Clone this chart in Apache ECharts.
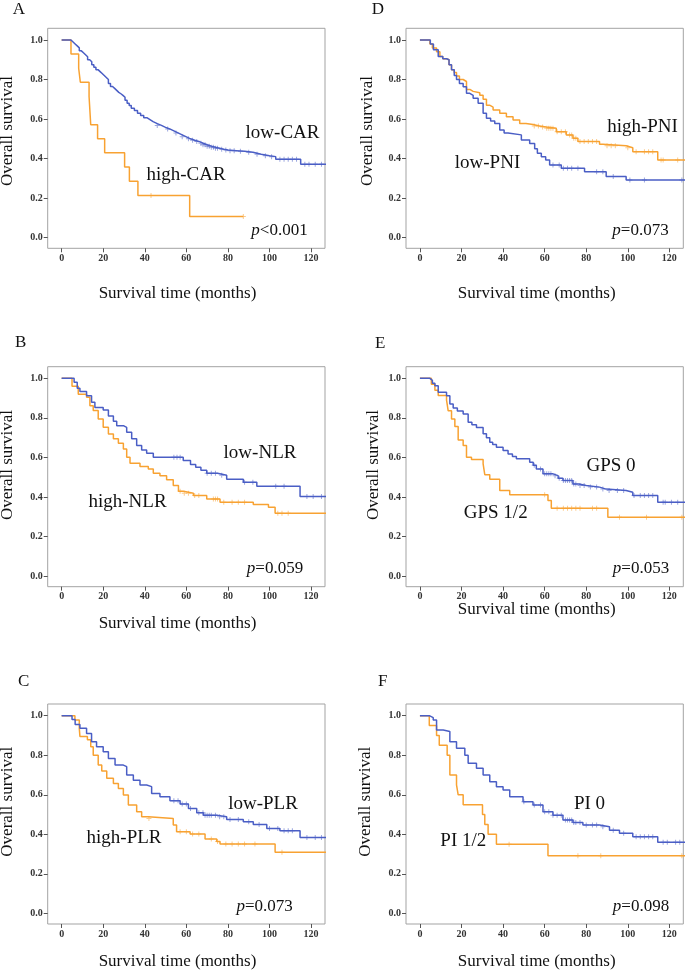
<!DOCTYPE html>
<html>
<head>
    <meta charset="utf-8">
    <title>Overall survival</title>
    <script src="https://cdn.jsdelivr.net/npm/echarts@6.0.0/dist/echarts.min.js"></script>
    <style>
        html, body { margin: 0; padding: 0; background: #fff; }
        #chart { width: 685px; height: 970px; }
    </style>
</head>
<body>
<div id="chart"></div>
<script>
    // tick labels
    var xTicks = [0, 20, 40, 60, 80, 100, 120];
    var yTicks = [0, 0.2, 0.4, 0.6, 0.8, 1.0];

    // A: CAR  (drop times / survival after drop / censor times)
    var carLowT = [4.5,5.5,6.5,7.5,8.5,9.5,10.5,11.5,12.5,13.5,14.5,15.5,16.5,17.5,18.5,19.5,20.5,21.5,22.5,23.5,24.5,25.5,26.5,27.5,28.5,29.5,30.5,31.5,32.5,33.5,35,36.5,38,39.5,41,42.5,44,46,48,50,52,54,56,58,60,62,64,66,68,70,72,74,76,78,80,84,88,92,96,100,103,115];
    var carLowS = [0.99,0.98,0.97,0.96,0.945,0.935,0.925,0.915,0.90,0.89,0.875,0.862,0.85,0.84,0.83,0.82,0.81,0.80,0.78,0.765,0.755,0.745,0.735,0.728,0.72,0.71,0.695,0.68,0.668,0.655,0.643,0.63,0.618,0.607,0.597,0.587,0.577,0.568,0.558,0.55,0.54,0.53,0.52,0.51,0.50,0.493,0.487,0.478,0.47,0.463,0.457,0.452,0.447,0.443,0.44,0.437,0.432,0.422,0.415,0.41,0.397,0.371];
    var carLowCens = [46,51,55,58,61,63,65,67,68,69,70,71,72,73,74,75,77,79,81,83,86,90,94,98,101,105,107,109,111,113,117,119,122,125];
    var carHighT = [4.5,8.2,9,13.2,14,17.3,20.7,30.3,32.6,36.7,61.6];
    var carHighS = [0.929,0.857,0.786,0.714,0.571,0.5,0.429,0.357,0.286,0.214,0.107];
    var carHighCens = [43,87.4];
    var carHighEnd = 87.4;

    // B: NLR
    var nlrLowT = [6,7.5,8.8,12,14.4,16,20,22.5,24.9,26.5,29.7,31.3,33.7,36.1,38.5,40.9,44.1,58.5,62,64.5,67,69.8,75,79.4,87.4,93.9,114.7];
    var nlrLowS = [0.98,0.95,0.933,0.912,0.879,0.853,0.84,0.81,0.783,0.761,0.752,0.727,0.694,0.66,0.638,0.621,0.601,0.585,0.565,0.55,0.535,0.52,0.51,0.49,0.475,0.455,0.402];
    var nlrLowCens = [54,55.5,57,70,72,74,77,88,92,103,107,118,121,125];
    var nlrHighT = [5,8,12,13.6,15.2,17.6,20,22.5,24.9,27.3,29.7,31.3,32.9,37.7,41.7,44.1,47.3,50.5,53.7,56.2,58.6,63.4,69.8,76.2,92.2,99.5,102.7];
    var nlrHighS = [0.96,0.92,0.904,0.862,0.837,0.795,0.753,0.719,0.694,0.672,0.643,0.601,0.571,0.554,0.542,0.52,0.508,0.487,0.458,0.429,0.419,0.407,0.39,0.374,0.362,0.348,0.318];
    var nlrHighCens = [57,59,61,64,66,73,74,75,78,82,85,88,104,106,109];

    // C: PLR
    var plrLowT = [5,6.5,8.8,12,14.4,16.8,20,22.5,25.7,29.7,31.3,34.5,37.7,40.9,43.3,47.3,52.1,57,61,65,68.2,74.6,79.4,87.4,92.2,98.7,105,114.7];
    var plrLowS = [0.98,0.955,0.936,0.91,0.868,0.843,0.818,0.784,0.75,0.742,0.70,0.674,0.649,0.641,0.607,0.59,0.57,0.553,0.531,0.509,0.497,0.489,0.475,0.464,0.45,0.43,0.418,0.384];
    var plrLowCens = [54,56,58,60,62,66,68,69,70,71,72,74,76,78,81,85,90,95,100,104,107,109,111,118,122,125];
    var plrHighT = [6.4,8.5,8.8,12.4,14,15.2,17.6,19.3,21.7,24.9,27.3,29.7,32.1,36.1,38.5,41.7,53.7,55.3,61.8,69,74.6,76.2,102.7];
    var plrHighS = [0.978,0.936,0.895,0.878,0.843,0.80,0.75,0.72,0.683,0.657,0.632,0.599,0.548,0.514,0.489,0.48,0.447,0.413,0.401,0.376,0.363,0.351,0.309];
    var plrHighCens = [42,57,60,63,66,72,75,79,82,85,88,93,106];

    // D: PNI
    var pniLowT = [5,6.5,8.8,11,12.8,14,15.2,16.5,17.6,19,20.8,22.4,24,25.6,28,30.4,32,34,36,38.4,40.5,42.4,48.8,52.8,55.2,56.5,58.4,60.5,62.4,68,79.2,89.6,99.2];
    var pniLowS = [0.98,0.95,0.916,0.905,0.90,0.875,0.85,0.82,0.80,0.78,0.764,0.73,0.72,0.705,0.68,0.63,0.604,0.59,0.578,0.545,0.53,0.52,0.494,0.477,0.45,0.427,0.41,0.393,0.368,0.351,0.334,0.309,0.292];
    var pniLowCens = [64,67,69,71,73,76,85,88,93,101,108,126];
    var pniHighT = [4.8,6,8,9.6,11,12.8,14,15.2,16.5,17.6,19,20.8,22.4,24,25.6,28.8,30.4,32,33.5,35.2,38.4,41.6,44.8,48,51,54.4,57.5,60.8,65.6,70.4,73.6,76,86.4,88,99.2,102.4,114.4];
    var pniHighS = [0.98,0.96,0.94,0.916,0.905,0.90,0.875,0.85,0.835,0.818,0.80,0.79,0.75,0.74,0.733,0.72,0.70,0.67,0.66,0.646,0.63,0.612,0.595,0.578,0.572,0.565,0.56,0.553,0.536,0.52,0.503,0.486,0.472,0.465,0.455,0.435,0.393];
    var pniHighCens = [55,57,59,61,62,63,64,66,68,70,72,73,74,75,77,79,81,83,85,90,92,94,100,104,108,110,112,116,117,124];

    // E: GPS
    var gps0T = [4.8,6,7.2,8.8,12.8,14.4,16,18,20.8,23.2,25,27.2,30.4,32,33.6,35,36.8,40,42.4,44.5,46.4,52.8,54.5,56,59.2,64,66.5,68.8,73.6,76.5,80,86.4,89.6,99.2,102.4,114.4];
    var gps0S = [0.99,0.975,0.963,0.93,0.912,0.87,0.85,0.835,0.82,0.778,0.765,0.752,0.72,0.70,0.677,0.665,0.652,0.635,0.618,0.605,0.593,0.576,0.56,0.542,0.517,0.508,0.495,0.483,0.466,0.458,0.45,0.44,0.433,0.424,0.407,0.374];
    var gps0Cens = [55,58,60,61,62,63,65,67,69,70,71,72,73,74,75,77,79,82,85,88,91,95,98,103,106,108,110,112,117,118,121,124];
    var gps12T = [5.5,7.2,8.8,12.8,13.6,15.2,16.8,18.4,20.8,22.4,24.8,30.4,31.2,33.6,38.4,43.2,61.6,63.2,90.4];
    var gps12S = [0.97,0.94,0.913,0.89,0.836,0.795,0.756,0.688,0.66,0.601,0.59,0.567,0.513,0.49,0.433,0.412,0.382,0.343,0.298];
    var gps12Cens = [60,66,69,71,73,75,77,83,85,96,109,126];

    // F: PI
    var pi0T = [4.5,6.4,8,11.2,14.4,17.6,21.6,23.2,27.2,30.4,33.6,36.8,40,43.2,49.6,54.4,59.2,64,68.8,73.6,78.4,86.4,91.2,96,102.4,114.4];
    var pi0S = [0.99,0.978,0.927,0.92,0.868,0.835,0.80,0.759,0.734,0.70,0.666,0.641,0.624,0.59,0.565,0.548,0.514,0.497,0.472,0.46,0.447,0.438,0.42,0.405,0.388,0.36];
    var pi0Cens = [50,55,58,60,62,64,66,68,70,71,72,73,74,75,77,80,83,85,88,93,98,104,106,108,110,112,117,119,123,125];
    var pi12T = [4.5,8,9.3,13.1,14.4,17.6,18.4,20.8,30.1,31.2,32.8,36.8,61.6];
    var pi12S = [0.95,0.9,0.85,0.8,0.7,0.65,0.6,0.55,0.5,0.45,0.4,0.35,0.292];
    var pi12Cens = [42.9,76,87,126];

    var BLUE = '#4a5ec5';
    var ORANGE = '#f8a232';
    var serif = '"Liberation Serif","Times New Roman",serif';

    // layout of the six panels
    var panels = [
        {letter: 'A', left: 47.7, top: 28.3, letterPos: [12.7, 10], yTitle: [7.5, 131], xTitle: [177.5, 293.3],
         blue: [carLowT, carLowS, carLowCens, 130], orange: [carHighT, carHighS, carHighCens, carHighEnd],
         labels: [['low-CAR', 282.5, 133], ['high-CAR', 186, 175]], p: ['<0.001', 279.5, 231]},
        {letter: 'B', left: 47.7, top: 366.7, letterPos: [15, 343], yTitle: [7.5, 465], xTitle: [177.5, 624],
         blue: [nlrLowT, nlrLowS, nlrLowCens, 130], orange: [nlrHighT, nlrHighS, nlrHighCens, 130],
         labels: [['low-NLR', 260, 452.7], ['high-NLR', 127.5, 501.7]], p: ['=0.059', 275, 568.3]},
        {letter: 'C', left: 47.7, top: 704, letterPos: [18, 681.7], yTitle: [7.5, 801.7], xTitle: [177.5, 961.7],
         blue: [plrLowT, plrLowS, plrLowCens, 130], orange: [plrHighT, plrHighS, plrHighCens, 130],
         labels: [['low-PLR', 263, 804], ['high-PLR', 124, 838.3]], p: ['=0.073', 264.7, 906.7]},
        {letter: 'D', left: 406, top: 28.3, letterPos: [371.7, 10], yTitle: [367.5, 131], xTitle: [536.7, 293.3],
         blue: [pniLowT, pniLowS, pniLowCens, 130], orange: [pniHighT, pniHighS, pniHighCens, 130],
         labels: [['high-PNI', 642.5, 126.7], ['low-PNI', 487.5, 163.3]], p: ['=0.073', 640.5, 231]},
        {letter: 'E', left: 406, top: 366.7, letterPos: [375, 344], yTitle: [374, 465], xTitle: [536.7, 610],
         blue: [gps0T, gps0S, gps0Cens, 130], orange: [gps12T, gps12S, gps12Cens, 130],
         labels: [['GPS 0', 611, 465.7], ['GPS 1/2', 495.7, 512.7]], p: ['=0.053', 641, 568.3]},
        {letter: 'F', left: 406, top: 704, letterPos: [378, 681.7], yTitle: [365.5, 801.7], xTitle: [536.7, 961.7],
         blue: [pi0T, pi0S, pi0Cens, 130], orange: [pi12T, pi12S, pi12Cens, 130],
         labels: [['PI 0', 589.5, 804], ['PI 1/2', 463.3, 840.7]], p: ['=0.098', 641, 906.7]}
    ];

    // step curve points: start at (0,1), each drop, then hold to the end
    function kmLine(T, S, end) {
        var pts = [[0, 1]];
        for (var i = 0; i < T.length; i++) pts.push([T[i], S[i]]);
        pts.push([end, S[S.length - 1]]);
        return pts;
    }
    // censor marks sit on the curve at their time
    function censorPts(T, S, C) {
        return C.map(function (t) {
            var s = 1;
            for (var i = 0; i < T.length; i++) if (T[i] <= t) s = S[i];
            return [t, s];
        });
    }
    function txt(text, x, y, size, rot) {
        return {type: 'text', x: x, y: y, rotation: rot || 0,
            style: {text: text, fontSize: size, fontFamily: serif, fill: '#111', textAlign: 'center', textVerticalAlign: 'middle'}};
    }

    var grids = [], xAxes = [], yAxes = [], series = [], graphics = [];
    var plusSym = 'path://M4,0h2v10h-2z M0,4h10v2h-10z';

    panels.forEach(function (p, k) {
        grids.push({left: p.left, top: p.top, width: 277.3, height: 220, show: true,
            borderColor: '#a3a3a3', borderWidth: 1, backgroundColor: 'transparent'});
        xAxes.push({type: 'value', gridIndex: k, min: -6.7, max: 126.7, position: 'bottom',
            axisLine: {show: false, onZero: false}, splitLine: {show: false},
            axisTick: {show: true, customValues: xTicks, length: 4, lineStyle: {color: '#555'}},
            axisLabel: {customValues: xTicks, margin: 5, fontSize: 10, fontWeight: 'bold', fontFamily: serif, color: '#333'}});
        yAxes.push({type: 'value', gridIndex: k, min: -0.0536, max: 1.059, position: 'left',
            axisLine: {show: false, onZero: false}, splitLine: {show: false},
            axisTick: {show: true, customValues: yTicks, length: 4, lineStyle: {color: '#555'}},
            axisLabel: {customValues: yTicks, margin: 5, fontSize: 10, fontWeight: 'bold', fontFamily: serif, color: '#333',
                formatter: function (v) { return v.toFixed(1); }}});

        [[p.orange, ORANGE], [p.blue, BLUE]].forEach(function (c) {
            var d = c[0];
            series.push({type: 'line', xAxisIndex: k, yAxisIndex: k, step: 'end', showSymbol: false, animation: false,
                data: kmLine(d[0], d[1], d[3]), lineStyle: {color: c[1], width: 1.5}, silent: true});
            series.push({type: 'scatter', xAxisIndex: k, yAxisIndex: k, symbol: plusSym, symbolSize: 5, animation: false,
                data: censorPts(d[0], d[1], d[2]), itemStyle: {color: c[1], opacity: 0.55}, silent: true});
        });

        var letter = txt(p.letter, p.letterPos[0], p.letterPos[1], 17);
        letter.style.textAlign = 'left';
        graphics.push(letter);
        graphics.push(txt('Overall survival', p.yTitle[0], p.yTitle[1], 17, Math.PI / 2));
        graphics.push(txt('Survival time (months)', p.xTitle[0], p.xTitle[1], 17));
        p.labels.forEach(function (l) { graphics.push(txt(l[0], l[1], l[2], 19)); });
        graphics.push({type: 'text', x: p.p[1], y: p.p[2], style: {
            text: '{i|p}{n|' + p.p[0] + '}', textAlign: 'center', textVerticalAlign: 'middle',
            fontSize: 17, fontFamily: serif, fill: '#111',
            rich: {i: {fontStyle: 'italic', fontSize: 17, fontFamily: serif, fill: '#111'},
                   n: {fontSize: 17, fontFamily: serif, fill: '#111'}}}});
    });

    var chart = echarts.init(document.getElementById('chart'));
    chart.setOption({
        animation: false,
        grid: grids,
        xAxis: xAxes,
        yAxis: yAxes,
        series: series,
        graphic: graphics
    });
</script>
</body>
</html>
